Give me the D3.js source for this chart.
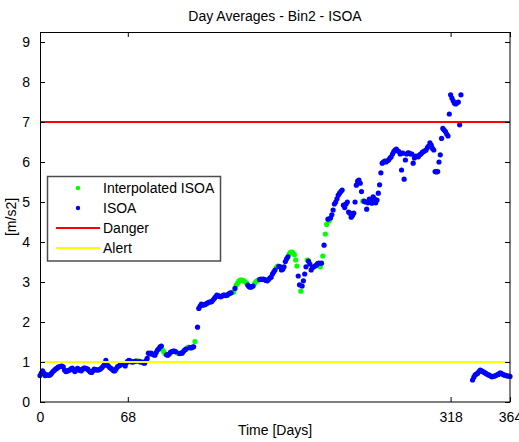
<!DOCTYPE html>
<html><head><meta charset="utf-8">
<script src="https://cdn.jsdelivr.net/npm/d3@7"></script>
<style>
html,body{margin:0;padding:0;background:#fff;}
svg{display:block;font-family:"Liberation Sans",Arial,sans-serif;}
</style></head>
<body><svg id="chart" width="519" height="442"></svg>
<script>
// ---- data ----
const titleText = "Day Averages - Bin2 - ISOA";
const xLabelText = "Time [Days]";
const yLabelText = "[m/s2]";
const xTicks = [0, 68, 318, 364];
const yTicks = [0, 1, 2, 3, 4, 5, 6, 7, 8, 9];
const dangerLevel = 7;
const alertLevel = 1;
const legendLabels = ["Interpolated ISOA", "ISOA", "Danger", "Alert"];

// ISOA day averages, index = day (null = no measured value that day)
const isoaByDay = [
  0.66,0.72,0.78,0.72,0.66,0.68,0.67,0.67,0.68,0.72,
  0.76,0.79,0.82,0.84,0.87,0.88,0.89,0.9,0.88,0.8,
  0.76,0.77,0.79,0.8,0.83,0.85,0.8,0.76,0.8,0.84,
  0.82,0.79,0.78,0.82,0.85,0.85,0.83,0.82,0.78,0.75,
  0.74,0.78,0.82,0.81,0.8,0.8,0.81,0.83,0.86,0.9,
  0.94,1.04,0.92,0.9,0.86,0.84,0.81,0.78,0.78,0.83,
  0.88,0.9,0.92,null,0.95,0.95,0.9,0.98,1.02,1.04,
  1.02,1.0,1.0,1.01,1.02,null,null,1.01,1.0,1.0,
  0.98,0.97,1.03,1.09,1.22,1.2,1.22,1.2,1.18,1.17,
  1.24,1.3,1.33,1.38,1.4,null,null,null,1.18,1.17,
  1.2,1.24,1.26,1.27,1.27,1.26,null,null,1.21,1.22,
  1.22,1.26,1.3,1.32,null,null,1.36,1.35,1.37,1.38,
  null,null,1.87,2.34,2.4,2.45,2.42,null,2.44,2.46,
  2.48,2.5,2.5,2.51,2.55,2.59,2.63,2.67,2.66,2.64,
  2.63,2.65,2.67,2.67,2.66,2.67,2.7,2.72,2.73,null,
  null,2.84,null,null,null,null,null,null,null,null,
  null,2.92,2.88,2.87,2.88,2.9,null,null,null,null,
  3.06,3.07,3.06,3.07,3.06,3.04,3.03,3.06,3.1,3.12,
  3.2,3.25,3.3,null,null,3.39,3.38,3.3,3.32,3.38,
  3.51,3.58,3.63,null,null,null,null,null,null,null,
  3.15,2.93,null,2.9,3.03,3.2,3.38,null,3.52,3.45,
  3.3,3.36,3.38,3.4,3.42,3.46,3.47,null,3.47,null,
  3.92,null,null,4.57,null,4.6,4.68,4.8,4.95,5.0,
  5.08,5.17,5.22,5.26,5.3,4.92,4.86,4.95,5.0,4.75,
  4.72,4.62,4.66,4.72,5.0,5.42,5.52,5.55,5.47,5.26,
  null,5.02,5.0,4.82,4.98,5.07,5.02,4.97,5.13,5.08,
  4.98,5.05,5.22,5.43,5.73,5.97,6.0,6.02,6.0,6.03,
  6.05,6.1,6.13,6.2,6.26,6.3,6.32,6.28,6.26,6.2,
  5.8,6.22,5.57,6.05,6.2,6.23,6.22,6.2,6.2,5.97,
  6.1,6.15,6.14,6.13,6.18,6.2,6.24,6.26,6.28,6.3,
  6.36,6.4,6.48,6.42,6.34,6.3,5.76,5.75,5.76,6.0,
  6.18,6.59,6.84,6.8,6.76,6.7,6.65,7.2,7.68,7.6,
  7.53,7.47,7.45,7.48,7.5,6.93,7.68,null,null,null,
  null,null,null,null,null,0.55,0.62,0.68,0.7,0.72,
  0.76,0.8,0.78,0.76,0.74,0.72,0.7,0.68,0.67,0.65,
  0.63,0.64,0.65,0.66,0.68,0.69,0.72,0.72,0.7,0.68,
  0.67,0.66,0.65,0.65,0.64
];

// Interpolated ISOA
const interpDays = [63,75,76,95,96,97,106,107,114,115,120,127,149,150,152,153,154,155,156,157,158,159,160,166,167,168,169,183,184,193,194,195,196,197,198,199,202,207,217,219,221,222,224,250];
const interpValues = [0.94,1.02,1.03,1.3,1.25,1.2,1.23,1.22,1.35,1.37,1.51,2.42,2.74,2.75,2.92,2.97,3.02,3.05,3.05,3.04,3.03,3.0,2.97,2.95,3.0,3.03,3.05,3.36,3.4,3.7,3.74,3.75,3.73,3.68,3.55,3.4,2.77,3.55,3.38,3.65,4.2,4.44,4.53,5.02];

// ---- drawing ----
const svg = d3.select("#chart");
const FONT = 14;
const x = d3.scaleLinear().domain([0, 364]).range([40, 510]);
const y = d3.scaleLinear().domain([0, 9.25]).range([402, 32]);

const isoa = isoaByDay.map((v, i) => ({d: i, v})).filter(p => p.v !== null);
const interp = interpDays.map((d, i) => ({d, v: interpValues[i]}));

// title & labels
svg.append("text").attr("x", 275).attr("y", 21).attr("text-anchor", "middle")
  .attr("font-size", FONT).attr("fill", "#000").text(titleText);
svg.append("text").attr("x", 275).attr("y", 435).attr("text-anchor", "middle")
  .attr("font-size", FONT).attr("fill", "#000").text(xLabelText);
svg.append("text").attr("transform", "translate(16,217) rotate(-90)").attr("text-anchor", "middle")
  .attr("font-size", FONT).attr("fill", "#000").text(yLabelText);

const plot = svg.append("g");
plot.append("rect").attr("x", 40).attr("y", 32).attr("width", 470).attr("height", 370).attr("fill", "#fff");

// points
const R = 2.6;
plot.append("g").selectAll("circle").data(interp).join("circle")
  .attr("cx", d => x(d.d)).attr("cy", d => y(d.v)).attr("r", R).attr("fill", "#00ff00");
plot.append("g").selectAll("circle").data(isoa).join("circle")
  .attr("cx", d => x(d.d)).attr("cy", d => y(d.v)).attr("r", R).attr("fill", "#0000ff");

// thresholds
plot.append("line").attr("x1", x(0)).attr("x2", x(364)).attr("y1", y(dangerLevel)).attr("y2", y(dangerLevel))
  .attr("stroke", "#ff0000").attr("stroke-width", 2);
plot.append("line").attr("x1", x(0)).attr("x2", x(364)).attr("y1", y(alertLevel)).attr("y2", y(alertLevel))
  .attr("stroke", "#ffff00").attr("stroke-width", 2);

// axes (MATLAB style box, inward ticks on all sides)
function styleAxis(g) {
  g.select(".domain").remove();
  g.selectAll(".tick line").attr("stroke", "#000");
  g.selectAll(".tick text").attr("font-size", FONT).attr("fill", "#000")
    .attr("font-family", "Liberation Sans, Arial, sans-serif");
}
svg.append("g").attr("transform", "translate(0,402)")
  .call(d3.axisBottom(x).tickValues(xTicks).tickFormat(d3.format("d")).tickSizeInner(-5).tickSizeOuter(0).tickPadding(10))
  .call(styleAxis);
svg.append("g").attr("transform", "translate(0,32)")
  .call(d3.axisTop(x).tickValues(xTicks).tickFormat("").tickSizeInner(-5).tickSizeOuter(0))
  .call(styleAxis);
svg.append("g").attr("transform", "translate(40,0)")
  .call(d3.axisLeft(y).tickValues(yTicks).tickFormat(d3.format("d")).tickSizeInner(-5).tickSizeOuter(0).tickPadding(10))
  .call(styleAxis);
svg.append("g").attr("transform", "translate(510,0)")
  .call(d3.axisRight(y).tickValues(yTicks).tickFormat("").tickSizeInner(-5).tickSizeOuter(0))
  .call(styleAxis);
svg.append("rect").attr("x", 40.5).attr("y", 32.5).attr("width", 469.5).attr("height", 369.5)
  .attr("fill", "none").attr("stroke", "#000").attr("stroke-width", 1);

// legend
const lg = svg.append("g");
lg.append("rect").attr("x", 47.5).attr("y", 176.5).attr("width", 173).attr("height", 84.5)
  .attr("fill", "#fff").attr("stroke", "#4d4d4d").attr("stroke-width", 1.5);
const rowY = [188, 208, 228, 248];
lg.append("circle").attr("cx", 78).attr("cy", rowY[0]).attr("r", 2.2).attr("fill", "#00ff00");
lg.append("circle").attr("cx", 78).attr("cy", rowY[1]).attr("r", 2.2).attr("fill", "#0000ff");
lg.append("line").attr("x1", 56).attr("x2", 100).attr("y1", rowY[2]).attr("y2", rowY[2]).attr("stroke", "#ff0000").attr("stroke-width", 2);
lg.append("line").attr("x1", 56).attr("x2", 100).attr("y1", rowY[3]).attr("y2", rowY[3]).attr("stroke", "#ffff00").attr("stroke-width", 2);
lg.selectAll("text.lab").data(legendLabels).join("text").attr("class", "lab")
  .attr("x", 103).attr("y", (d, i) => rowY[i] + 5).attr("font-size", FONT).attr("fill", "#000").text(d => d);
</script>
</body></html>
